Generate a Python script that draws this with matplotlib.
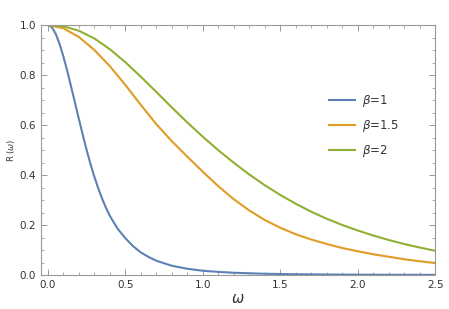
import matplotlib
matplotlib.use("Agg")
import matplotlib.pyplot as plt
from matplotlib.ticker import MultipleLocator, FormatStrFormatter

# omega grid and read-off values for each beta
omega_b1 = [0.0, 0.025, 0.05, 0.075, 0.1, 0.125, 0.15, 0.175, 0.2, 0.225, 0.25,
            0.275, 0.3, 0.325, 0.35, 0.375, 0.4, 0.45, 0.5, 0.55, 0.6, 0.65,
            0.7, 0.8, 0.9, 1.0, 1.1, 1.2, 1.4, 1.6, 1.8, 2.0, 2.25, 2.5]
r_b1 = [1.0, 0.991, 0.965, 0.924, 0.873, 0.815, 0.752, 0.688, 0.623, 0.56, 0.499,
        0.443, 0.392, 0.346, 0.305, 0.268, 0.236, 0.185, 0.147, 0.115, 0.09, 0.072,
        0.057, 0.037, 0.025, 0.017, 0.0125, 0.009, 0.005, 0.0031, 0.002, 0.0013,
        0.0009, 0.0006]

omega = [0.0, 0.1, 0.2, 0.3, 0.4, 0.5, 0.6, 0.7, 0.8, 0.9, 1.0, 1.1, 1.2, 1.3,
         1.4, 1.5, 1.6, 1.7, 1.8, 1.9, 2.0, 2.1, 2.2, 2.3, 2.4, 2.5]
r_b15 = [1.0, 0.987, 0.952, 0.90, 0.835, 0.76, 0.68, 0.603, 0.535, 0.473, 0.413,
         0.355, 0.303, 0.258, 0.22, 0.189, 0.163, 0.142, 0.124, 0.108, 0.095,
         0.083, 0.073, 0.063, 0.055, 0.048]
r_b2 = [1.0, 0.995, 0.977, 0.946, 0.903, 0.851, 0.793, 0.732, 0.67, 0.61, 0.553,
        0.499, 0.449, 0.402, 0.359, 0.32, 0.285, 0.253, 0.225, 0.20, 0.178,
        0.158, 0.14, 0.124, 0.11, 0.097]

labels = [r"$\beta$=1", r"$\beta$=1.5", r"$\beta$=2"]
colors = ["#5E81B5", "#E19C24", "#8FB032"]

fig = plt.figure(figsize=(4.49, 3.09), dpi=100)
ax = fig.add_axes([0.0913, 0.110, 0.878, 0.809])

ax.plot(omega_b1, r_b1, color=colors[0], lw=1.5, label=labels[0])
ax.plot(omega, r_b15, color=colors[1], lw=1.5, label=labels[1])
ax.plot(omega, r_b2, color=colors[2], lw=1.5, label=labels[2])

ax.set_xlim(-0.045, 2.5)
ax.set_ylim(0, 1)

ax.xaxis.set_major_locator(MultipleLocator(0.5))
ax.xaxis.set_minor_locator(MultipleLocator(0.1))
ax.yaxis.set_major_locator(MultipleLocator(0.2))
ax.yaxis.set_minor_locator(MultipleLocator(0.05))
ax.xaxis.set_major_formatter(FormatStrFormatter("%.1f"))
ax.yaxis.set_major_formatter(FormatStrFormatter("%.1f"))

ax.tick_params(which="both", direction="in", top=True, right=True,
               color="#999999", labelcolor="#333333", labelsize=7.5)
ax.tick_params(which="major", length=4, width=0.7)
ax.tick_params(which="minor", length=2.2, width=0.6)
for sp in ax.spines.values():
    sp.set_edgecolor("#999999")
    sp.set_linewidth(0.8)

ax.set_xlabel(r"$\omega$", fontsize=10.5, color="#333333", labelpad=1)
ax.set_ylabel(r"R ($\omega$)", fontsize=6, color="#333333")
ax.yaxis.set_label_coords(-0.062, 0.5)

ax.legend(loc="upper left", bbox_to_anchor=(0.703, 0.77), frameon=False,
          fontsize=8.5, handlelength=2.2, handletextpad=0.6, labelspacing=0.75,
          labelcolor="#333333")

fig.savefig("out.png", dpi=100)
